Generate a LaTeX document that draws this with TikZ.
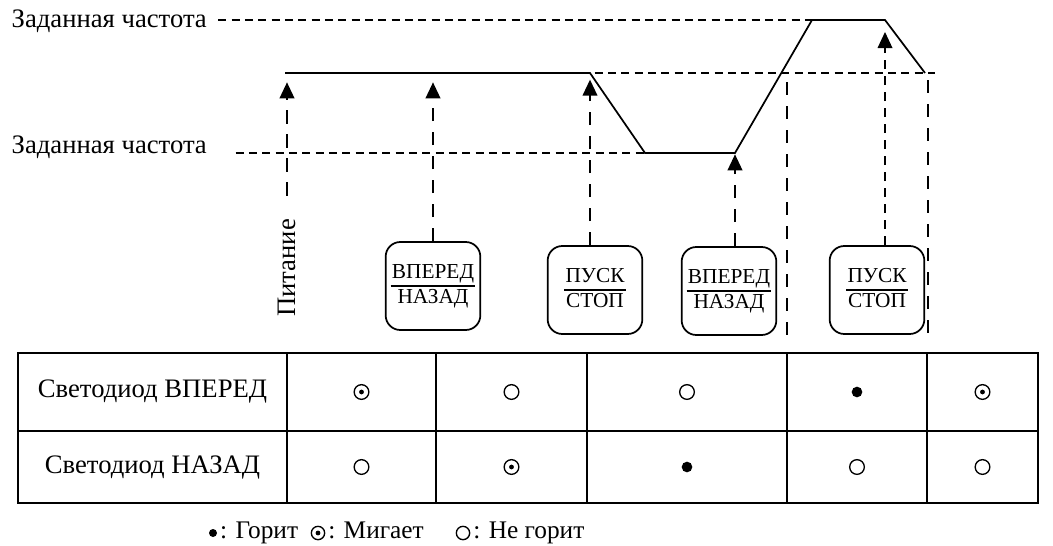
\documentclass[tikz,border=0pt]{standalone}
\usepackage{fontspec}
\setmainfont{Liberation Serif}
\usetikzlibrary{arrows.meta,positioning}
\setlength{\arrayrulewidth}{0.9pt}
\newcommand{\keypair}[2]{\begin{tabular}{@{\hspace{1pt}}c@{\hspace{1pt}}}#1\\\hline #2\end{tabular}}

\begin{document}
\begin{tikzpicture}[x=0.75pt, y=-0.75pt,
    every node/.style={font=\fontsize{20}{24}\selectfont},
    freq/.style={line width=1.3pt},
    level/.style={line width=1pt, dash pattern=on 6pt off 4pt},
    guide/.style={line width=1.3pt, dash pattern=on 10pt off 8pt},
    cue/.style={guide, -{Triangle[width=11pt,length=12pt]}},
    keybox/.style={draw, line width=1.3pt, rounded corners=11pt,
      minimum width=71pt, minimum height=66pt, inner sep=1pt,
      font=\fontsize{16}{18}\selectfont},
    tablerule/.style={line width=1.3pt},
    ledoff/.style={circle, draw, line width=1pt, inner sep=0pt, minimum size=11pt},
    ledon/.style={circle, fill, inner sep=0pt, minimum size=8pt},
    ledblink/.style={ledoff, path picture={\fill (path picture bounding box.center) circle (1.8pt);}},
    legendtext/.style={font=\fontsize{19}{22}\selectfont, inner sep=2pt}
  ]
  \useasboundingbox (0,0) rectangle (1053,546);

  % Frequency profile
  \coordinate (p0) at (285,73);
  \coordinate (d1) at (590,73);
  \coordinate (d2) at (645,153);
  \coordinate (u1) at (735,153);
  \coordinate (u2) at (812,20);
  \coordinate (t2) at (885,20);
  \coordinate (e0) at (925,73);
  \draw[freq] (p0) -- (d1) -- (d2) -- (u1) -- (u2) -- (t2) -- (e0);

  % Set frequency levels
  \node[anchor=west] (fhigh) at (7,21) {Заданная частота};
  \node[anchor=west] (flow) at (7,147) {Заданная частота};
  \draw[level, shorten <=5pt] (fhigh.east |- u2) -- (u2);
  \draw[level] (flow.east |- d2) ++(24,0) -- (d2);
  \coordinate (m0) at (488,73);
  \coordinate (m1) at (935,73);
  \draw[level] (m0) -- (m1);

  % Keys
  \node[keybox] (fwdA) at (433,286) {\keypair{ВПЕРЕД}{НАЗАД}};
  \node[keybox] (runA) at (595,290) {\keypair{ПУСК}{СТОП}};
  \node[keybox] (fwdB) at (729,291) {\keypair{ВПЕРЕД}{НАЗАД}};
  \node[keybox] (runB) at (877,290) {\keypair{ПУСК}{СТОП}};
  \node[rotate=90] (power) at (287,268) {Питание};

  % Events
  \draw[cue, shorten <=14pt, shorten >=7pt] (power.east) -- (power.east |- p0);
  \draw[cue, shorten >=7pt] (fwdA.north) -- (fwdA.north |- p0);
  \draw[cue, shorten >=5pt] (runA.north -| d1) -- (d1);
  \draw[cue, shorten >=1pt] (fwdB.north -| u1) -- (u1);
  \draw[cue, dash pattern=on 7pt off 5pt, line width=1pt, shorten >=9pt] (runB.north -| t2) -- (t2);
  \coordinate (g1) at (787,82);
  \coordinate (g2) at (928,80);
  \draw[guide] (g1) -- (g1 |- fwdB.south);
  \draw[guide] (g2) -- (g2 |- fwdB.south);

  % LED table
  \draw[tablerule] (18,353) rectangle (1038,503);
  \draw[tablerule] (18,431) -- (1038,431);
  \foreach \cx in {287,436,587,787,927}
    \draw[tablerule] (\cx,353) -- (\cx,503);
  \node (rowfwd) at (152.5,392) {Светодиод ВПЕРЕД};
  \node (rowrev) at (152.5,467) {Светодиод НАЗАД};
  \foreach \cx/\st [count=\i] in {361.5/ledblink, 511.5/ledoff, 687/ledoff, 857/ledon, 982.5/ledblink}
    \node[\st] (fwd\i) at (\cx,392) {};
  \foreach \cx/\st [count=\i] in {361.5/ledoff, 511.5/ledblink, 687/ledon, 857/ledoff, 982.5/ledoff}
    \node[\st] (rev\i) at (\cx,467) {};

  % Legend
  \node[ledon, minimum size=6pt] (keyon) at (213,533) {};
  \node[legendtext, right=0pt of keyon] (txton) {\strut: Горит};
  \node[ledblink, minimum size=10pt] (keyblink) at (318,533) {};
  \node[legendtext, right=0pt of keyblink] (txtblink) {\strut: Мигает};
  \node[ledoff, minimum size=10pt] (keyoff) at (463,533) {};
  \node[legendtext, right=0pt of keyoff] (txtoff) {\strut: Не горит};
\end{tikzpicture}
\end{document}
